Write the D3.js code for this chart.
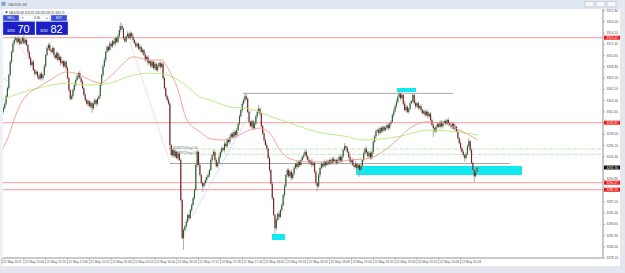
<!DOCTYPE html>
<html><head><meta charset="utf-8">
<script src="https://cdn.jsdelivr.net/npm/d3@7"></script>
<style>
html,body{margin:0;padding:0;background:#f0f0f0;overflow:hidden}
svg{display:block;font-family:"Liberation Sans",Arial,sans-serif}
</style></head><body>
<svg id="chart" width="625" height="273"></svg>
<script>
// XAUUSD M1, 22 May 2025, one close per minute from 14:48
const closes = [
3301.6,3302.2,3302.9,3304.1,3305.4,3307.5,3309.6,3311.2,3312.5,3313.1,
3313.4,3312.8,3313.3,3312.5,3312.9,3313.4,3312.6,3313.1,3312.3,3311.2,
3310.2,3309.1,3309.6,3308.3,3307.7,3308.0,3307.3,3306.9,3307.7,3307.0,
3307.5,3308.9,3310.7,3311.8,3312.3,3311.5,3311.2,3311.8,3310.7,3310.2,
3311.0,3309.9,3310.4,3309.4,3309.7,3308.9,3309.6,3308.6,3307.0,3305.1,
3303.7,3304.1,3305.1,3305.9,3306.7,3307.3,3307.8,3307.0,3306.4,3305.4,
3304.3,3303.5,3302.9,3303.3,3302.5,3303.0,3302.2,3302.9,3303.5,3302.9,
3303.7,3304.1,3305.9,3307.5,3308.9,3309.9,3311.2,3312.0,3311.5,3312.5,
3312.1,3312.9,3312.5,3313.4,3312.8,3313.7,3314.7,3315.3,3314.9,3313.4,
3312.9,3313.7,3314.1,3313.4,3314.2,3313.7,3313.1,3312.6,3312.1,3312.5,
3311.7,3312.0,3311.2,3311.5,3310.7,3309.9,3310.4,3309.4,3309.7,3308.9,
3309.6,3308.6,3309.3,3308.3,3308.9,3309.4,3308.8,3309.3,3307.0,3305.4,
3304.1,3303.5,3302.9,3296.3,3294.7,3295.5,3294.5,3295.2,3294.2,3294.9,
3293.9,3287.5,3281.4,3282.7,3283.3,3284.0,3285.1,3284.6,3285.9,3286.7,
3287.8,3289.1,3293.1,3295.2,3293.1,3291.5,3290.2,3289.7,3290.2,3290.7,
3291.2,3291.5,3292.3,3293.9,3294.7,3295.2,3293.9,3292.9,3293.4,3294.4,
3295.2,3295.8,3295.5,3296.5,3296.1,3297.1,3296.8,3297.6,3298.1,3297.6,
3298.4,3297.9,3298.7,3299.7,3300.9,3301.9,3302.9,3303.5,3304.1,3303.7,
3301.6,3300.0,3299.3,3300.1,3299.0,3299.7,3300.9,3301.6,3302.1,3301.3,
3299.3,3298.1,3297.1,3296.3,3295.7,3294.2,3292.3,3290.1,3287.8,3285.1,
3283.0,3284.3,3285.3,3284.8,3285.9,3286.7,3288.3,3289.7,3291.5,3292.3,
3291.3,3292.0,3291.0,3291.7,3292.6,3293.3,3292.8,3293.6,3293.1,3293.9,
3294.4,3294.7,3295.2,3294.5,3293.9,3293.4,3293.7,3293.1,3293.4,3292.0,
3290.2,3289.7,3291.5,3292.6,3293.3,3292.9,3293.6,3293.1,3293.7,3293.3,
3293.9,3293.4,3294.1,3293.6,3293.9,3293.4,3293.9,3294.4,3293.7,3294.5,
3295.5,3296.1,3295.8,3295.2,3294.4,3293.6,3293.9,3293.1,3292.8,3293.3,
3292.6,3293.1,3292.3,3292.9,3293.9,3295.0,3295.7,3295.2,3294.5,3295.0,
3294.2,3295.2,3296.8,3297.7,3298.5,3298.7,3298.2,3299.0,3298.5,3299.2,
3298.7,3299.0,3299.5,3299.0,3299.7,3300.0,3301.1,3301.7,3302.5,3303.2,
3304.0,3304.5,3303.8,3304.3,3302.9,3301.9,3302.4,3301.6,3302.1,3303.0,
3303.3,3304.3,3303.0,3302.5,3303.0,3302.2,3302.5,3301.9,3301.4,3301.7,
3301.1,3301.6,3300.9,3301.3,3300.3,3299.5,3299.0,3298.5,3299.2,3299.7,
3299.2,3300.0,3299.3,3299.8,3300.1,3299.7,3300.3,3299.8,3299.5,3299.2,
3299.7,3298.9,3299.2,3298.5,3297.4,3296.6,3295.8,3295.2,3294.7,3294.2,
3294.9,3296.1,3296.9,3295.5,3293.4,3292.3,3291.3,3292.0,3292.6,3292.7
];
// wick lengths in tenths of a dollar, one character per bar (base 36)
const upWick =
  "2324323245 3242534232 2323242323 2423342323 3242323242 2334232423 2324232432 3242342324 3243257632 3242324232 " +
  "2423242323 3242323242 2343232423 2323242323 2333242323 2423242324 2324232423 3242324354 2323243462 3242323242 " +
  "2324232423 3242324232 2434232423 3242324232 2324232423 3523242324 2324232423 3242324232 2324232434 3423242324 " +
  "2324232423 3242324232 2324232423 3242324232 2352324232";
const dnWick =
  "8323242323 2423242324 3242324232 4232423242 2324232423 3242324232 2324238324 3242324232 2324232423 3242324232 " +
  "2324232423 3242324232 2328242324 232j242323 2324232923 3242324232 2324232423 3242324232 2324232423 3242324232 " +
  "9324232423 3242324232 2324232423 3824232423 2324232423 3242324232 23b4232423 3242324232 2324232423 3242324232 " +
  "2324232423 324232e232 2324232423 3242324236 2324239232";

const timeLabels = ["22 May 2025","22 May 15:04","22 May 15:20","22 May 15:36","22 May 15:52","22 May 16:08",
  "22 May 16:24","22 May 16:40","22 May 16:56","22 May 17:12","22 May 17:28","22 May 17:44","22 May 18:00",
  "22 May 18:16","22 May 18:32","22 May 18:48","22 May 19:04","22 May 19:20","22 May 19:36","22 May 19:52",
  "22 May 20:08","22 May 20:24"];
const priceTicks = [3317.80,3316.00,3314.20,3312.40,3310.60,3308.80,3307.00,3305.20,3303.40,3301.60,3299.80,
  3298.00,3296.20,3294.40,3292.60,3290.80,3289.00,3287.20,3285.40,3283.60,3281.80,3280.00,3278.20];

const levels = [3313.47, 3299.87, 3290.27, 3289.15];
const lastPrice = 3292.70;
const dashLevels = [3295.66, 3294.81];
// [bar from, bar to, price]
const grayLines = [[176.6, 330.4, 3304.57], [123, 372, 3293.34]];
// [bar from, bar to, price top, price bottom]
const zones = [[289.4, 303.3, 3305.42, 3304.78], [197.8, 207.3, 3282.06, 3281.10], [259.3, 381, 3292.94, 3291.50]];
// moving averages [bar, price]
const maFast = [[0,3295.5],[3.7,3297.1],[8.8,3300.3],[13.2,3302.7],[18.3,3304.3],[25.6,3305.4],[35.2,3306.7],
  [47.6,3308.0],[57.1,3307.5],[64.5,3306.7],[71.8,3306.2],[79.1,3307.2],[86.4,3308.8],[96,3310.4],[108.4,3309.9],
  [117.2,3309.9],[120.9,3308.8],[128.2,3305.6],[135.5,3300.3],[145.1,3298.4],[152.4,3297.3],[161.2,3297.1],
  [170.7,3297.6],[181.7,3298.7],[189,3299.0],[196.3,3298.2],[203.7,3295.5],[211,3294.1],[223.4,3293.6],
  [242.5,3293.6],[254.9,3293.9],[269.6,3294.2],[280.6,3295.5],[289.4,3297.1],[298.9,3299.0],[311.4,3300.0],
  [323.1,3299.8],[337.7,3298.4],[348.7,3297.1]];
const maSlow = [[0,3303.5],[13.2,3304.6],[30,3305.6],[47.6,3306.2],[62.3,3305.9],[79.1,3306.2],[91.6,3307.2],
  [108.4,3307.8],[120.9,3307.5],[132.6,3306.2],[145.1,3304.0],[152.4,3303.5],[167,3302.4],[181.7,3302.1],
  [196.3,3300.9],[211,3299.8],[230.8,3298.4],[251.3,3297.7],[264.5,3297.1],[289.4,3297.6],[313.6,3298.7],
  [333.3,3298.4],[348.7,3297.9]];
const trendRed = [[[93.8,3312.78],[123.1,3293.42]], [[11,3312.8],[19.8,3309.9]]];
const trendBlue = [[[139.9,3285.1],[183.2,3301.9]], [[-1.5,3307.18],[5.9,3306.38]]];

const svg = d3.select("#chart");
const L = 3, R = 603, T = 9, B = 258;

const x = d3.scaleLinear().domain([0, 439]).range([2, 601.2]);
const y = d3.scaleLinear().domain([3319.5 - 0.16 * B, 3319.5 - 0.16 * T]).range([B, T]);

const wUp = upWick.replace(/ /g, "").split("").map(c => parseInt(c, 36) / 10);
const wDn = dnWick.replace(/ /g, "").split("").map(c => parseInt(c, 36) / 10);
const bars = closes.map((c, i) => {
  const o = i ? closes[i - 1] : c + 0.3;
  return {i, o, c, h: Math.max(o, c) + wUp[i], l: Math.min(o, c) - wDn[i]};
});

// window frame
svg.append("rect").attr("width", 625).attr("height", 273).attr("fill", "#eef1f6");
svg.append("rect").attr("x", 0).attr("y", 0).attr("width", 621).attr("height", 9).attr("fill", "#dfe7f2");
svg.append("rect").attr("x", 1.5).attr("y", 1.8).attr("width", 4).attr("height", 4).attr("fill", "#7fa2d8");
svg.append("text").attr("x", 8).attr("y", 5.6).attr("font-size", 3.3).attr("fill", "#555").text("XAUUSD,M1");
[585, 596, 607].forEach(bx => {
  svg.append("rect").attr("x", bx).attr("y", 1.5).attr("width", 9).attr("height", 5.5)
    .attr("fill", "#f4f6f9").attr("stroke", "#aab3c0").attr("stroke-width", 0.5);
});
svg.append("rect").attr("x", L).attr("y", T).attr("width", 617).attr("height", 257).attr("fill", "#fff");

const defs = svg.append("defs");
defs.append("clipPath").attr("id", "plot").append("rect")
  .attr("x", L).attr("y", T).attr("width", R - L).attr("height", B - T);
const g = svg.append("g").attr("clip-path", "url(#plot)");

// zones behind everything
g.selectAll(".zone").data(zones).join("rect")
  .attr("x", d => x(d[0])).attr("width", d => x(d[1]) - x(d[0]))
  .attr("y", d => y(d[2])).attr("height", d => y(d[3]) - y(d[2]))
  .attr("fill", "#12e8f2");

g.selectAll(".lvl").data(levels).join("line")
  .attr("x1", L).attr("x2", R).attr("y1", d => y(d)).attr("y2", d => y(d))
  .attr("stroke", "#f39a9a").attr("stroke-width", 1);

g.selectAll(".dl").data(dashLevels).join("line")
  .attr("x1", x(124.5)).attr("x2", R - 2).attr("y1", d => y(d)).attr("y2", d => y(d))
  .attr("stroke", "#a6e0a0").attr("stroke-width", 0.8).attr("stroke-dasharray", "3,1,1,1");

g.selectAll(".gl").data(grayLines).join("line")
  .attr("x1", d => x(d[0])).attr("x2", d => x(d[1])).attr("y1", d => y(d[2])).attr("y2", d => y(d[2]))
  .attr("stroke", "#a7a7a7").attr("stroke-width", 1);

// candles
const cg = g.append("g");
cg.selectAll("line").data(bars).join("line")
  .attr("x1", d => x(d.i)).attr("x2", d => x(d.i))
  .attr("y1", d => y(d.h)).attr("y2", d => y(d.l))
  .attr("stroke", "#a3a3a3").attr("stroke-width", 0.9);
cg.selectAll("rect").data(bars).join("rect")
  .attr("x", d => x(d.i) - 0.55).attr("width", 1.1)
  .attr("y", d => y(Math.max(d.o, d.c)))
  .attr("height", d => Math.max(0.6, Math.abs(y(d.o) - y(d.c))))
  .attr("fill", d => d.c >= d.o ? "#24602a" : "#7a1d1d");

const line = d3.line().x(d => x(d[0])).y(d => y(d[1])).curve(d3.curveMonotoneX);
g.append("path").attr("d", line(maSlow)).attr("fill", "none").attr("stroke", "#b6ea7c").attr("stroke-width", 0.9);
g.append("path").attr("d", line(maFast)).attr("fill", "none").attr("stroke", "#f29a8e").attr("stroke-width", 0.9);

const straight = d3.line().x(d => x(d[0])).y(d => y(d[1]));
trendRed.forEach(t => {
  g.append("path").attr("d", straight(t)).attr("stroke", "#f4a39a").attr("stroke-width", 0.8)
    .attr("stroke-dasharray", "1,1.2").attr("fill", "none");
});
trendBlue.forEach(t => {
  g.append("path").attr("d", straight(t)).attr("stroke", "#8f9ff0").attr("stroke-width", 0.8)
    .attr("stroke-dasharray", "1,1.2").attr("fill", "none");
});

// order labels next to the dashed levels
dashLevels.forEach(p => {
  g.append("text").attr("x", x(124.5) + 0.5).attr("y", y(p) - 0.3).attr("font-size", 2.6).attr("fill", "#666")
    .text("#654879713 buy 0.50");
});

// plot borders
svg.append("line").attr("x1", R).attr("x2", R).attr("y1", T).attr("y2", B).attr("stroke", "#7a7a7a").attr("stroke-width", 0.8);
svg.append("line").attr("x1", L).attr("x2", R).attr("y1", B).attr("y2", B).attr("stroke", "#7a7a7a").attr("stroke-width", 0.8);

// price axis
const pa = svg.append("g");
pa.selectAll("line").data(priceTicks).join("line")
  .attr("x1", R).attr("x2", R + 2).attr("y1", d => y(d)).attr("y2", d => y(d)).attr("stroke", "#777").attr("stroke-width", 0.5);
pa.selectAll("text").data(priceTicks).join("text")
  .attr("x", R + 3.5).attr("y", d => y(d) + 1.1).attr("font-size", 3.2).attr("fill", "#555")
  .text(d => d.toFixed(2));

const tag = (p, fill) => {
  svg.append("rect").attr("x", R + 1).attr("y", y(p) - 2).attr("width", 16).attr("height", 4).attr("fill", fill);
  svg.append("text").attr("x", R + 3.5).attr("y", y(p) + 1.1).attr("font-size", 3.2).attr("fill", "#fff").text(p.toFixed(2));
};
levels.forEach(p => tag(p, "#f01818"));
tag(lastPrice, "#111");

// time axis
const ta = svg.append("g");
ta.selectAll("line").data(timeLabels).join("line")
  .attr("x1", (d, k) => x(16 * k)).attr("x2", (d, k) => x(16 * k)).attr("y1", B).attr("y2", B + 6)
  .attr("stroke", "#888").attr("stroke-width", 0.5);
ta.selectAll("text").data(timeLabels).join("text")
  .attr("x", (d, k) => x(16 * k) + 1).attr("y", B + 5.3).attr("font-size", 3.2).attr("fill", "#555")
  .text(d => d);

// one-click trading panel
svg.append("path").attr("d", "M5,11.5 L8,11.5 L6.5,13.5 Z").attr("fill", "#333");
svg.append("text").attr("x", 9).attr("y", 13.6).attr("font-size", 2.6).attr("fill", "#333")
  .text("XAUUSD,M1  3292.81 3292.88 3291.81 3292.70");
const btn = (bx, bw, label) => {
  svg.append("rect").attr("x", bx).attr("y", 15).attr("width", bw).attr("height", 6)
    .attr("fill", "#3b4fd8").attr("stroke", "#c9d0f4").attr("stroke-width", 0.4);
  svg.append("text").attr("x", bx + bw / 2).attr("y", 19.2).attr("text-anchor", "middle")
    .attr("font-size", 3).attr("fill", "#fff").text(label);
};
btn(3, 16, "SELL");
btn(51, 16, "BUY");
svg.append("rect").attr("x", 20).attr("y", 15).attr("width", 30).attr("height", 6).attr("fill", "#fff")
  .attr("stroke", "#b8b8b8").attr("stroke-width", 0.4);
svg.append("text").attr("x", 22).attr("y", 19.2).attr("font-size", 3).attr("fill", "#444").text("▾");
svg.append("text").attr("x", 46).attr("y", 19.2).attr("font-size", 3).attr("fill", "#444").text("▴");
svg.append("text").attr("x", 40).attr("y", 19.2).attr("text-anchor", "end").attr("font-size", 3).attr("fill", "#222").text("0.50");
const big = (bx, small, large) => {
  svg.append("rect").attr("x", bx).attr("y", 21.5).attr("width", 32).attr("height", 13.5)
    .attr("fill", "#1b1fc4").attr("stroke", "#c9d0f4").attr("stroke-width", 0.4);
  svg.append("text").attr("x", bx + 4).attr("y", 31.5).attr("font-size", 3.6).attr("fill", "#fff").text(small);
  svg.append("text").attr("x", bx + 14.5).attr("y", 33).attr("font-size", 11).attr("fill", "#fff").text(large);
};
big(3, "3292", "70");
big(36, "3292", "82");

// bottom tab strip
svg.append("rect").attr("x", 0).attr("y", 266).attr("width", 625).attr("height", 7).attr("fill", "#e4e8ee");
svg.append("rect").attr("x", 620).attr("y", 0).attr("width", 5).attr("height", 273).attr("fill", "#e4e8ee");
</script>
</body></html>
